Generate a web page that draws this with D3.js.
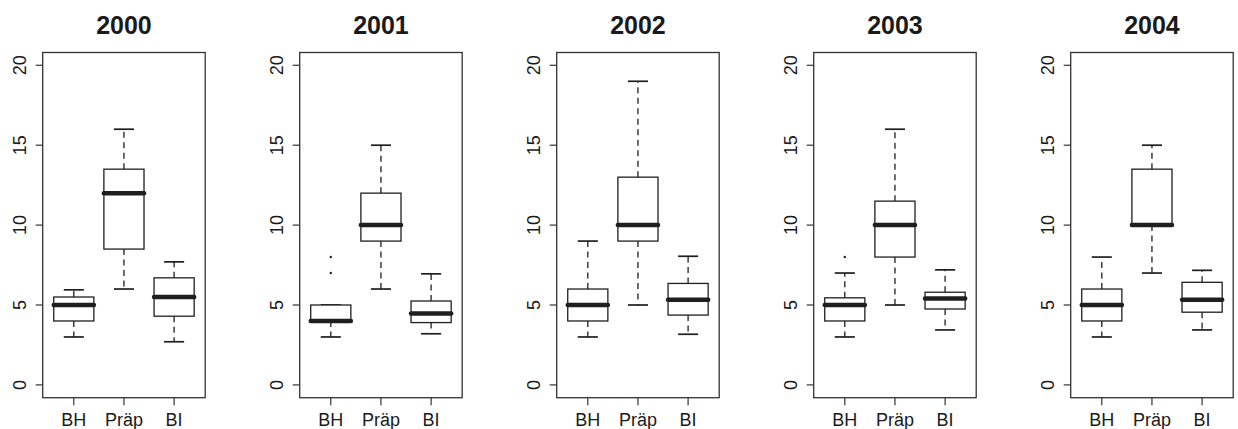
<!DOCTYPE html>
<html>
<head>
<meta charset="utf-8">
<script src="https://cdn.jsdelivr.net/npm/d3@7"></script>
<style>
  body { margin: 0; background: #fff; }
  svg { display: block; }
  text { font-family: "Liberation Sans", Arial, Helvetica, sans-serif; fill: #1a1a1a; }
</style>
</head>
<body>
<svg id="chart" width="1238" height="429"></svg>
<script>
// Jahre (ein Panel pro Jahr) und Gruppen
const years = ["2000", "2001", "2002", "2003", "2004"];
const groups = ["BH", "Präp", "BI"];

// Boxplot-Kennwerte pro Jahr, je [BH, Präp, BI]
const whiskerLow  = [[3, 6, 2.7], [3, 6, 3.2], [3, 5, 3.17], [3, 5, 3.44], [3, 7, 3.44]];
const quart1      = [[4, 8.5, 4.3], [4, 9, 3.9], [4, 9, 4.37], [4, 8, 4.75], [4, 10, 4.55]];
const medians     = [[5, 12, 5.5], [4, 10, 4.47], [5, 10, 5.33], [5, 10, 5.4], [5, 10, 5.33]];
const quart3      = [[5.5, 13.5, 6.7], [5, 12, 5.25], [6, 13, 6.35], [5.45, 11.5, 5.8], [6, 13.5, 6.42]];
const whiskerHigh = [[5.95, 16, 7.7], [5, 15, 6.95], [9, 19, 8.05], [7, 16, 7.2], [8, 15, 7.17]];
const outliers    = [[[], [], []], [[7, 8], [], []], [[], [], []], [[8], [], []], [[], [], []]];

const yTicks = [0, 5, 10, 15, 20];

const svg = d3.select("#chart");

const panelLeft = 42.7, panelStep = 257, panelW = 162.5;
const plotTop = 52.5, plotBottom = 397.7;
const ink = "#1f1f1f";

// y-Skala wie in R: 0..20 mit 4% Rand
const y = d3.scaleLinear().domain([-0.8, 20.8]).range([plotBottom, plotTop]);

years.forEach((yr, i) => {
    const left = panelLeft + i * panelStep;
    const x = d3.scaleLinear().domain([0.38, 3.62]).range([left, left + panelW]);
    const unit = x(1) - x(0);
    const g = svg.append("g").attr("class", "panel");

    // Titel
    g.append("text")
        .attr("x", left + panelW / 2)
        .attr("y", 33.5)
        .attr("text-anchor", "middle")
        .style("font-weight", "bold")
        .style("font-size", "25px")
        .text(yr);

    // Rahmen
    g.append("rect")
        .attr("x", left).attr("y", plotTop)
        .attr("width", panelW).attr("height", plotBottom - plotTop)
        .attr("fill", "none").attr("stroke", "#333").attr("stroke-width", 1.3);

    // y-Achse (Ticks + gedrehte Beschriftung)
    const yAxis = g.append("g");
    yAxis.selectAll("line").data(yTicks).join("line")
        .attr("x1", left - 7).attr("x2", left)
        .attr("y1", d => y(d)).attr("y2", d => y(d))
        .attr("stroke", "#333").attr("stroke-width", 1.2);
    yAxis.selectAll("text").data(yTicks).join("text")
        .attr("transform", d => `translate(${left - 16.5},${y(d)}) rotate(-90)`)
        .attr("text-anchor", "middle")
        .style("font-size", "18px")
        .text(d => d);

    // x-Achse
    const xAxis = g.append("g");
    xAxis.selectAll("line").data(groups).join("line")
        .attr("x1", (d, j) => x(j + 1)).attr("x2", (d, j) => x(j + 1))
        .attr("y1", plotBottom).attr("y2", plotBottom + 7.5)
        .attr("stroke", "#333").attr("stroke-width", 1.2);
    xAxis.selectAll("text").data(groups).join("text")
        .attr("x", (d, j) => x(j + 1))
        .attr("y", 426)
        .attr("text-anchor", "middle")
        .style("font-size", "18px")
        .text(d => d);

    // Boxen
    const stats = groups.map((name, j) => ({
        name: name,
        pos: j + 1,
        lo: whiskerLow[i][j],
        q1: quart1[i][j],
        med: medians[i][j],
        q3: quart3[i][j],
        hi: whiskerHigh[i][j],
        out: outliers[i][j]
    }));

    const box = g.selectAll(".box").data(stats).join("g").attr("class", "box");
    const halfBox = 0.4 * unit, halfCap = 0.2 * unit;

    // Whisker (gestrichelt)
    box.append("line")
        .attr("x1", d => x(d.pos)).attr("x2", d => x(d.pos))
        .attr("y1", d => y(d.q3)).attr("y2", d => y(d.hi))
        .attr("stroke", ink).attr("stroke-width", 1.3)
        .attr("stroke-dasharray", "6,4.5");
    box.append("line")
        .attr("x1", d => x(d.pos)).attr("x2", d => x(d.pos))
        .attr("y1", d => y(d.q1)).attr("y2", d => y(d.lo))
        .attr("stroke", ink).attr("stroke-width", 1.3)
        .attr("stroke-dasharray", "6,4.5");

    // Endstriche
    ["hi", "lo"].forEach(k => {
        box.append("line")
            .attr("x1", d => x(d.pos) - halfCap).attr("x2", d => x(d.pos) + halfCap)
            .attr("y1", d => y(d[k])).attr("y2", d => y(d[k]))
            .attr("stroke", ink).attr("stroke-width", 1.7);
    });

    box.append("rect")
        .attr("x", d => x(d.pos) - halfBox)
        .attr("y", d => y(d.q3))
        .attr("width", 2 * halfBox)
        .attr("height", d => y(d.q1) - y(d.q3))
        .attr("fill", "#fff").attr("stroke", ink).attr("stroke-width", 1.3);

    // Median (dick)
    box.append("line")
        .attr("x1", d => x(d.pos) - halfBox).attr("x2", d => x(d.pos) + halfBox)
        .attr("y1", d => y(d.med)).attr("y2", d => y(d.med))
        .attr("stroke", ink).attr("stroke-width", 4.5)
        .attr("stroke-linecap", "round");

    // Ausreisser
    box.selectAll(".out").data(d => d.out.map(v => ({ pos: d.pos, v: v }))).join("circle")
        .attr("class", "out")
        .attr("cx", d => x(d.pos)).attr("cy", d => y(d.v))
        .attr("r", 1.2).attr("fill", ink);
});
</script>
</body>
</html>
